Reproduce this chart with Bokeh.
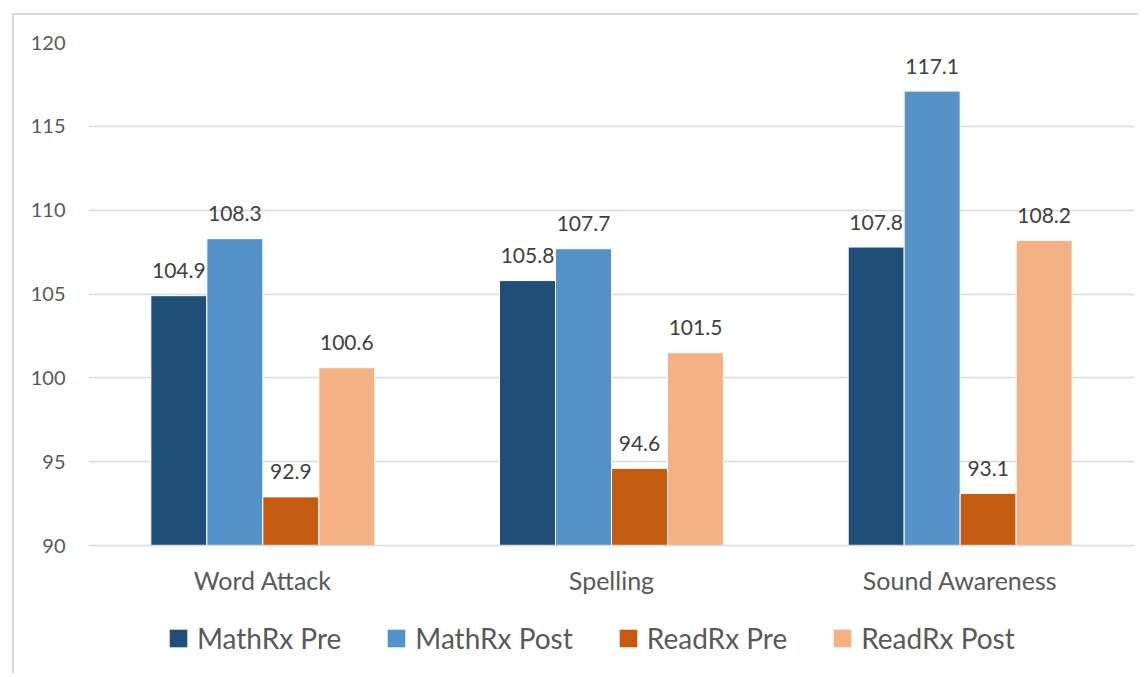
from bokeh.plotting import figure
from bokeh.models import ColumnDataSource, FactorRange, Legend, LegendItem
from bokeh.layouts import column
from bokeh.transform import dodge
from bokeh.core.properties import value
from bokeh.embed import file_html
from bokeh.resources import INLINE

categories = ["Word Attack", "Spelling", "Sound Awareness"]
series_names = ["MathRx Pre", "MathRx Post", "ReadRx Pre", "ReadRx Post"]
mathrx_pre = [104.9, 105.8, 107.8]
mathrx_post = [108.3, 107.7, 117.1]
readrx_pre = [92.9, 94.6, 93.1]
readrx_post = [100.6, 101.5, 108.2]
y_ticks = [90, 95, 100, 105, 110, 115, 120]

colors = ["#1F4E79", "#5592C8", "#C55A11", "#F4B183"]
keys = ["mathrx_pre", "mathrx_post", "readrx_pre", "readrx_post"]
values_list = [mathrx_pre, mathrx_post, readrx_pre, readrx_post]

data = {"cat": categories}
for k, v in zip(keys, values_list):
    data[k] = v
    data[k + "_lbl"] = [f"{x:.1f}" for x in v]
source = ColumnDataSource(data)

FONT = "Lato"
BORDER = "2px solid #D9D9D9"

# ---- main chart ----
p = figure(x_range=FactorRange(*categories, range_padding=0), y_range=(90, 120),
           width=1126, height=600, output_backend="svg", toolbar_location=None,
           min_border_left=74, min_border_right=6, min_border_top=27, min_border_bottom=70)
p.styles = {"margin-left": "12px", "margin-top": "13px",
            "border-left": BORDER, "border-top": BORDER}
p.outline_line_color = None
p.background_fill_color = "white"
p.border_fill_color = "white"

bw = 0.1606
offsets = [-1.5 * bw, -0.5 * bw, 0.5 * bw, 1.5 * bw]
for k, c, off in zip(keys, colors, offsets):
    p.vbar(x=dodge("cat", off, range=p.x_range), top=k, bottom=90, width=bw,
           source=source, fill_color=c, line_color="white", line_width=1)
    p.text(x=dodge("cat", off, range=p.x_range), y=k, text=k + "_lbl", source=source,
           text_align="center", text_baseline="alphabetic", y_offset=-25,
           text_font=value(FONT), text_font_size="21px", text_color="#404040")

p.yaxis.ticker = y_ticks
p.yaxis.axis_line_color = None
p.yaxis.major_tick_line_color = None
p.yaxis.minor_tick_line_color = None
p.yaxis.major_label_text_font = FONT
p.yaxis.major_label_text_font_size = "20px"
p.yaxis.major_label_text_color = "#595959"
p.yaxis.major_label_standoff = 17

p.xaxis.axis_line_color = "#D9D9D9"
p.xaxis.axis_line_width = 1.5
p.xaxis.major_tick_line_color = None
p.xaxis.minor_tick_line_color = None
p.xaxis.major_label_text_font = FONT
p.xaxis.major_label_text_font_size = "25px"
p.xaxis.major_label_text_color = "#595959"
p.xaxis.major_label_standoff = 13

p.xgrid.grid_line_color = None
p.ygrid.grid_line_color = "#D9D9D9"
p.ygrid.grid_line_width = 1.5

# ---- legend strip (swatches come from off-range dummy bars) ----
q = figure(x_range=(0, 1), y_range=(0, 1), width=1126, height=60,
           output_backend="svg", toolbar_location=None,
           x_axis_location=None, y_axis_location=None,
           min_border_left=0, min_border_right=0, min_border_top=0, min_border_bottom=0)
q.styles = {"margin-left": "12px", "border-left": BORDER}
q.grid.grid_line_color = None
q.outline_line_color = None
q.background_fill_color = "white"
q.border_fill_color = "white"

dummy_src = ColumnDataSource(dict(x=[-10], top=[-10]))
dummies = [q.vbar(x="x", top="top", bottom=-20, width=0.1, source=dummy_src,
                  fill_color=c, line_color=None) for c in colors]
legend = Legend(items=[LegendItem(label=n, renderers=[r]) for n, r in zip(series_names, dummies)],
                orientation="horizontal", location=(79, 18))
legend.border_line_color = None
legend.background_fill_alpha = 0
legend.padding = 0
legend.margin = 0
legend.spacing = 44
legend.glyph_width = 22
legend.glyph_height = 22
legend.label_standoff = 8
legend.label_text_font = FONT
legend.label_text_font_size = "28px"
legend.label_text_color = "#595959"
q.add_layout(legend, "center")

open("out.html", "w").write(file_html(column(p, q, spacing=0), INLINE))
